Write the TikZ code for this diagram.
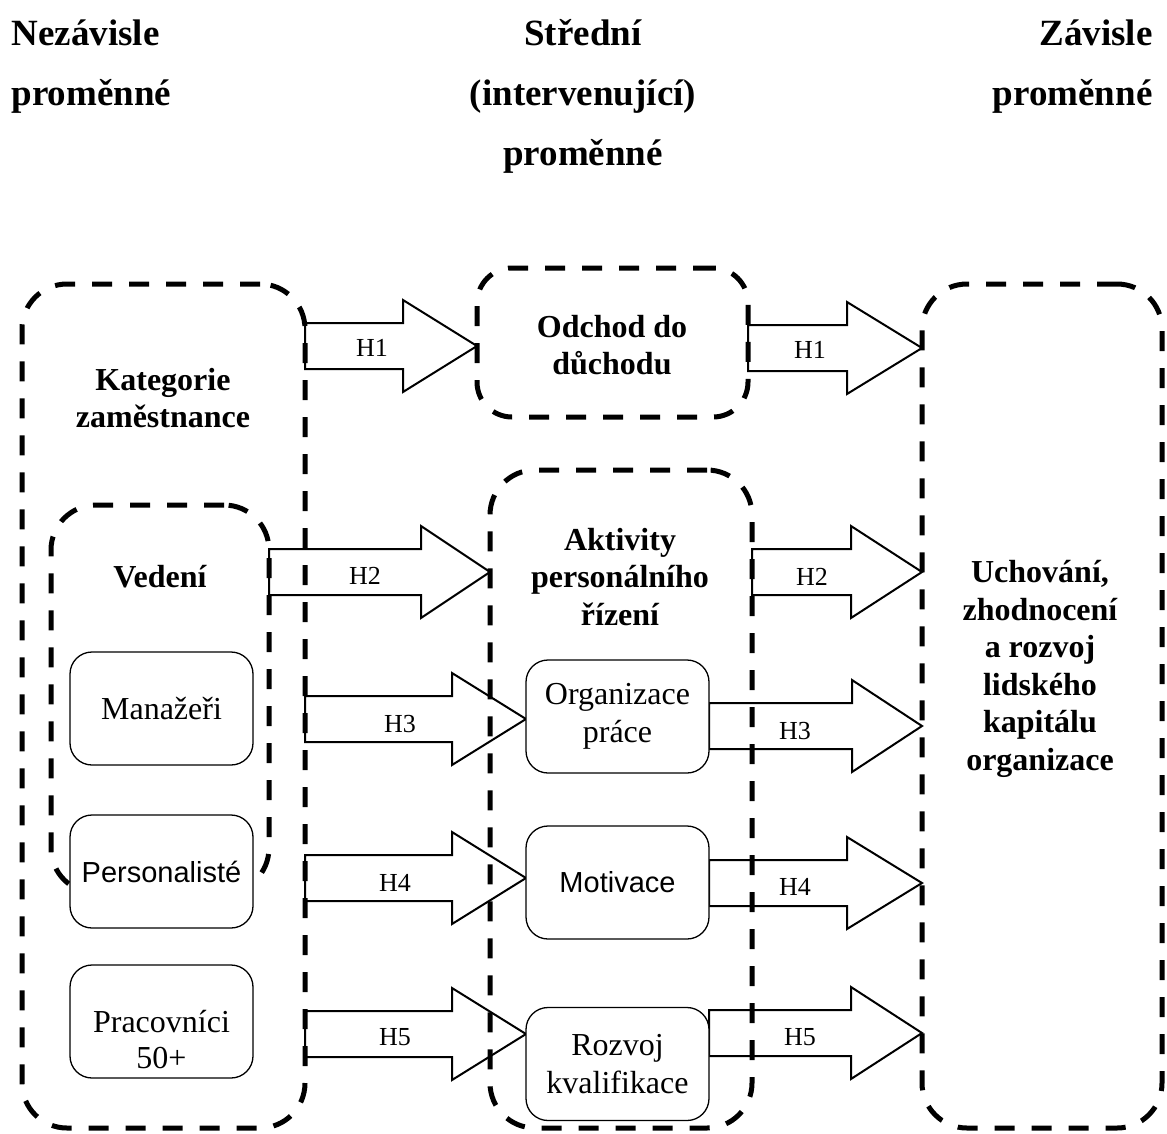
\documentclass[tikz,border=0pt]{standalone}
\usepackage{fontspec}
\setmainfont{Liberation Serif}
\newfontfamily\sansfont{Liberation Sans}
\usetikzlibrary{calc,backgrounds}

\tikzset{
  dashbox/.style={draw, line width=5pt, dash pattern=on 20pt off 17pt,
    rounded corners=45pt, inner sep=0pt, outer sep=0pt},
  itembox/.style={draw, fill=white, line width=1.3pt, rounded corners=22pt,
    minimum width=183pt, minimum height=113pt, inner sep=0pt, outer sep=0pt,
    align=center, font=\fontsize{32}{38}\selectfont},
  heading/.style={font=\fontsize{37}{44}\selectfont\bfseries},
  boldtext/.style={font=\fontsize{32}{37.5}\selectfont\bfseries, align=center},
  plaintext/.style={font=\fontsize{32}{36}\selectfont, align=center},
  hyp/.style={draw, line width=2pt, line join=miter},
  hyplabel/.style={font=\fontsize{26}{30}\selectfont, inner sep=0pt},
}

% block arrow: #1 start point, #2 tip point, #3 x of the neck, #4 label name, #5 label pos, #6 text
\newcommand\hyparrow[6]{%
  \draw[hyp] let \p1=#1, \p2=#2 in
    (\x1,\y2+23pt) -- (#3pt,\y2+23pt) -- (#3pt,\y2+46pt) -- (\x2,\y2)
    -- (#3pt,\y2-46pt) -- (#3pt,\y2-23pt) -- (\x1,\y2-23pt) -- cycle;
  \node[hyplabel] (#4) at #5 {#6};%
}

\begin{document}
\begin{tikzpicture}[x=1pt,y=-1pt]
\useasboundingbox (0,0) rectangle (1167,1133);

% column headings
\node[heading, anchor=base west] (h1a) at (8,45) {Nezávisle};
\node[heading, anchor=base west] (h1b) at (8,105) {proměnné};
\node[heading, anchor=base] (h2a) at (583,45) {Střední};
\node[heading, anchor=base] (h2b) at (583,105) {(intervenující)};
\node[heading, anchor=base] (h2c) at (583,165) {proměnné};
\node[heading, anchor=base east] (h3a) at (1156,45) {Závisle};
\node[heading, anchor=base east] (h3b) at (1156,105) {proměnné};

% dashed groups
\node[dashbox, minimum width=283pt, minimum height=844pt] (cat) at (163.5,706) {};
\node[dashbox, minimum width=218pt, minimum height=388pt] (ved) at (160,699) {};
\node[dashbox, minimum width=271pt, minimum height=149pt, rounded corners=35pt] (odchod) at (612.5,342.5) {};
\node[dashbox, minimum width=262pt, minimum height=658pt] (akt) at (621,799) {};
\node[dashbox, minimum width=240pt, minimum height=844pt] (dep) at (1042,706) {};

% group titles
\node[boldtext] (catt) at (163,398) {Kategorie\\zaměstnance};
\node[boldtext] (vedt) at (160,577) {Vedení};
\node[boldtext] (odchodt) at (612,345) {Odchod do\\důchodu};
\node[boldtext] (aktt) at (620,577) {Aktivity\\personálního\\řízení};
\node[boldtext] (dept) at (1040,669) {Uchování,\\zhodnocení\\a rozvoj\\lidského\\kapitálu\\organizace};

% solid item boxes
\node[itembox] (man) at (161.5,708.5) {Manažeři};
\node[itembox, font=\fontsize{29}{35}\sansfont] (pers) at (161.5,871.5) {Personalisté};
\node[itembox] (prac) at (161.5,1021.5) {};
\node[plaintext] (pract) at (161.5,1040) {Pracovníci\\50+};
\node[itembox] (org) at (617.5,716.5) {Organizace\\práce};
\node[itembox, font=\fontsize{29}{35}\sansfont] (mot) at (617.5,882.5) {Motivace};
\node[itembox] (roz) at (617.5,1064) {Rozvoj\\kvalifikace};

% hypotheses
\begin{scope}[on background layer]
\hyparrow{(cat.east |- 0,346)}{(odchod.west |- 0,346)}{403}{l1a}{(372,348)}{H1}
\hyparrow{(odchod.east |- 0,348)}{(dep.west |- 0,348)}{847}{l1b}{(810,350)}{H1}
\hyparrow{(ved.east |- 0,572)}{(akt.west |- 0,572)}{421}{l2a}{(365,576)}{H2}
\hyparrow{(akt.east |- 0,572)}{(dep.west |- 0,572)}{851}{l2b}{(812,577)}{H2}
\hyparrow{(cat.east |- 0,719)}{(org.west |- 0,719)}{452}{l3a}{(400,724)}{H3}
\hyparrow{(org.east |- 0,726)}{(dep.west |- 0,726)}{852}{l3b}{(795,731)}{H3}
\hyparrow{(cat.east |- 0,878)}{(mot.west |- 0,878)}{452}{l4a}{(395,883)}{H4}
\hyparrow{(mot.east |- 0,883)}{(dep.west |- 0,883)}{847}{l4b}{(795,887)}{H4}
\hyparrow{(cat.east |- 0,1034)}{(roz.west |- 0,1034)}{452}{l5a}{(395,1037)}{H5}
\hyparrow{(roz.east |- 0,1033)}{(dep.west |- 0,1033)}{851}{l5b}{(800,1037)}{H5}
\end{scope}
\end{tikzpicture}
\end{document}
